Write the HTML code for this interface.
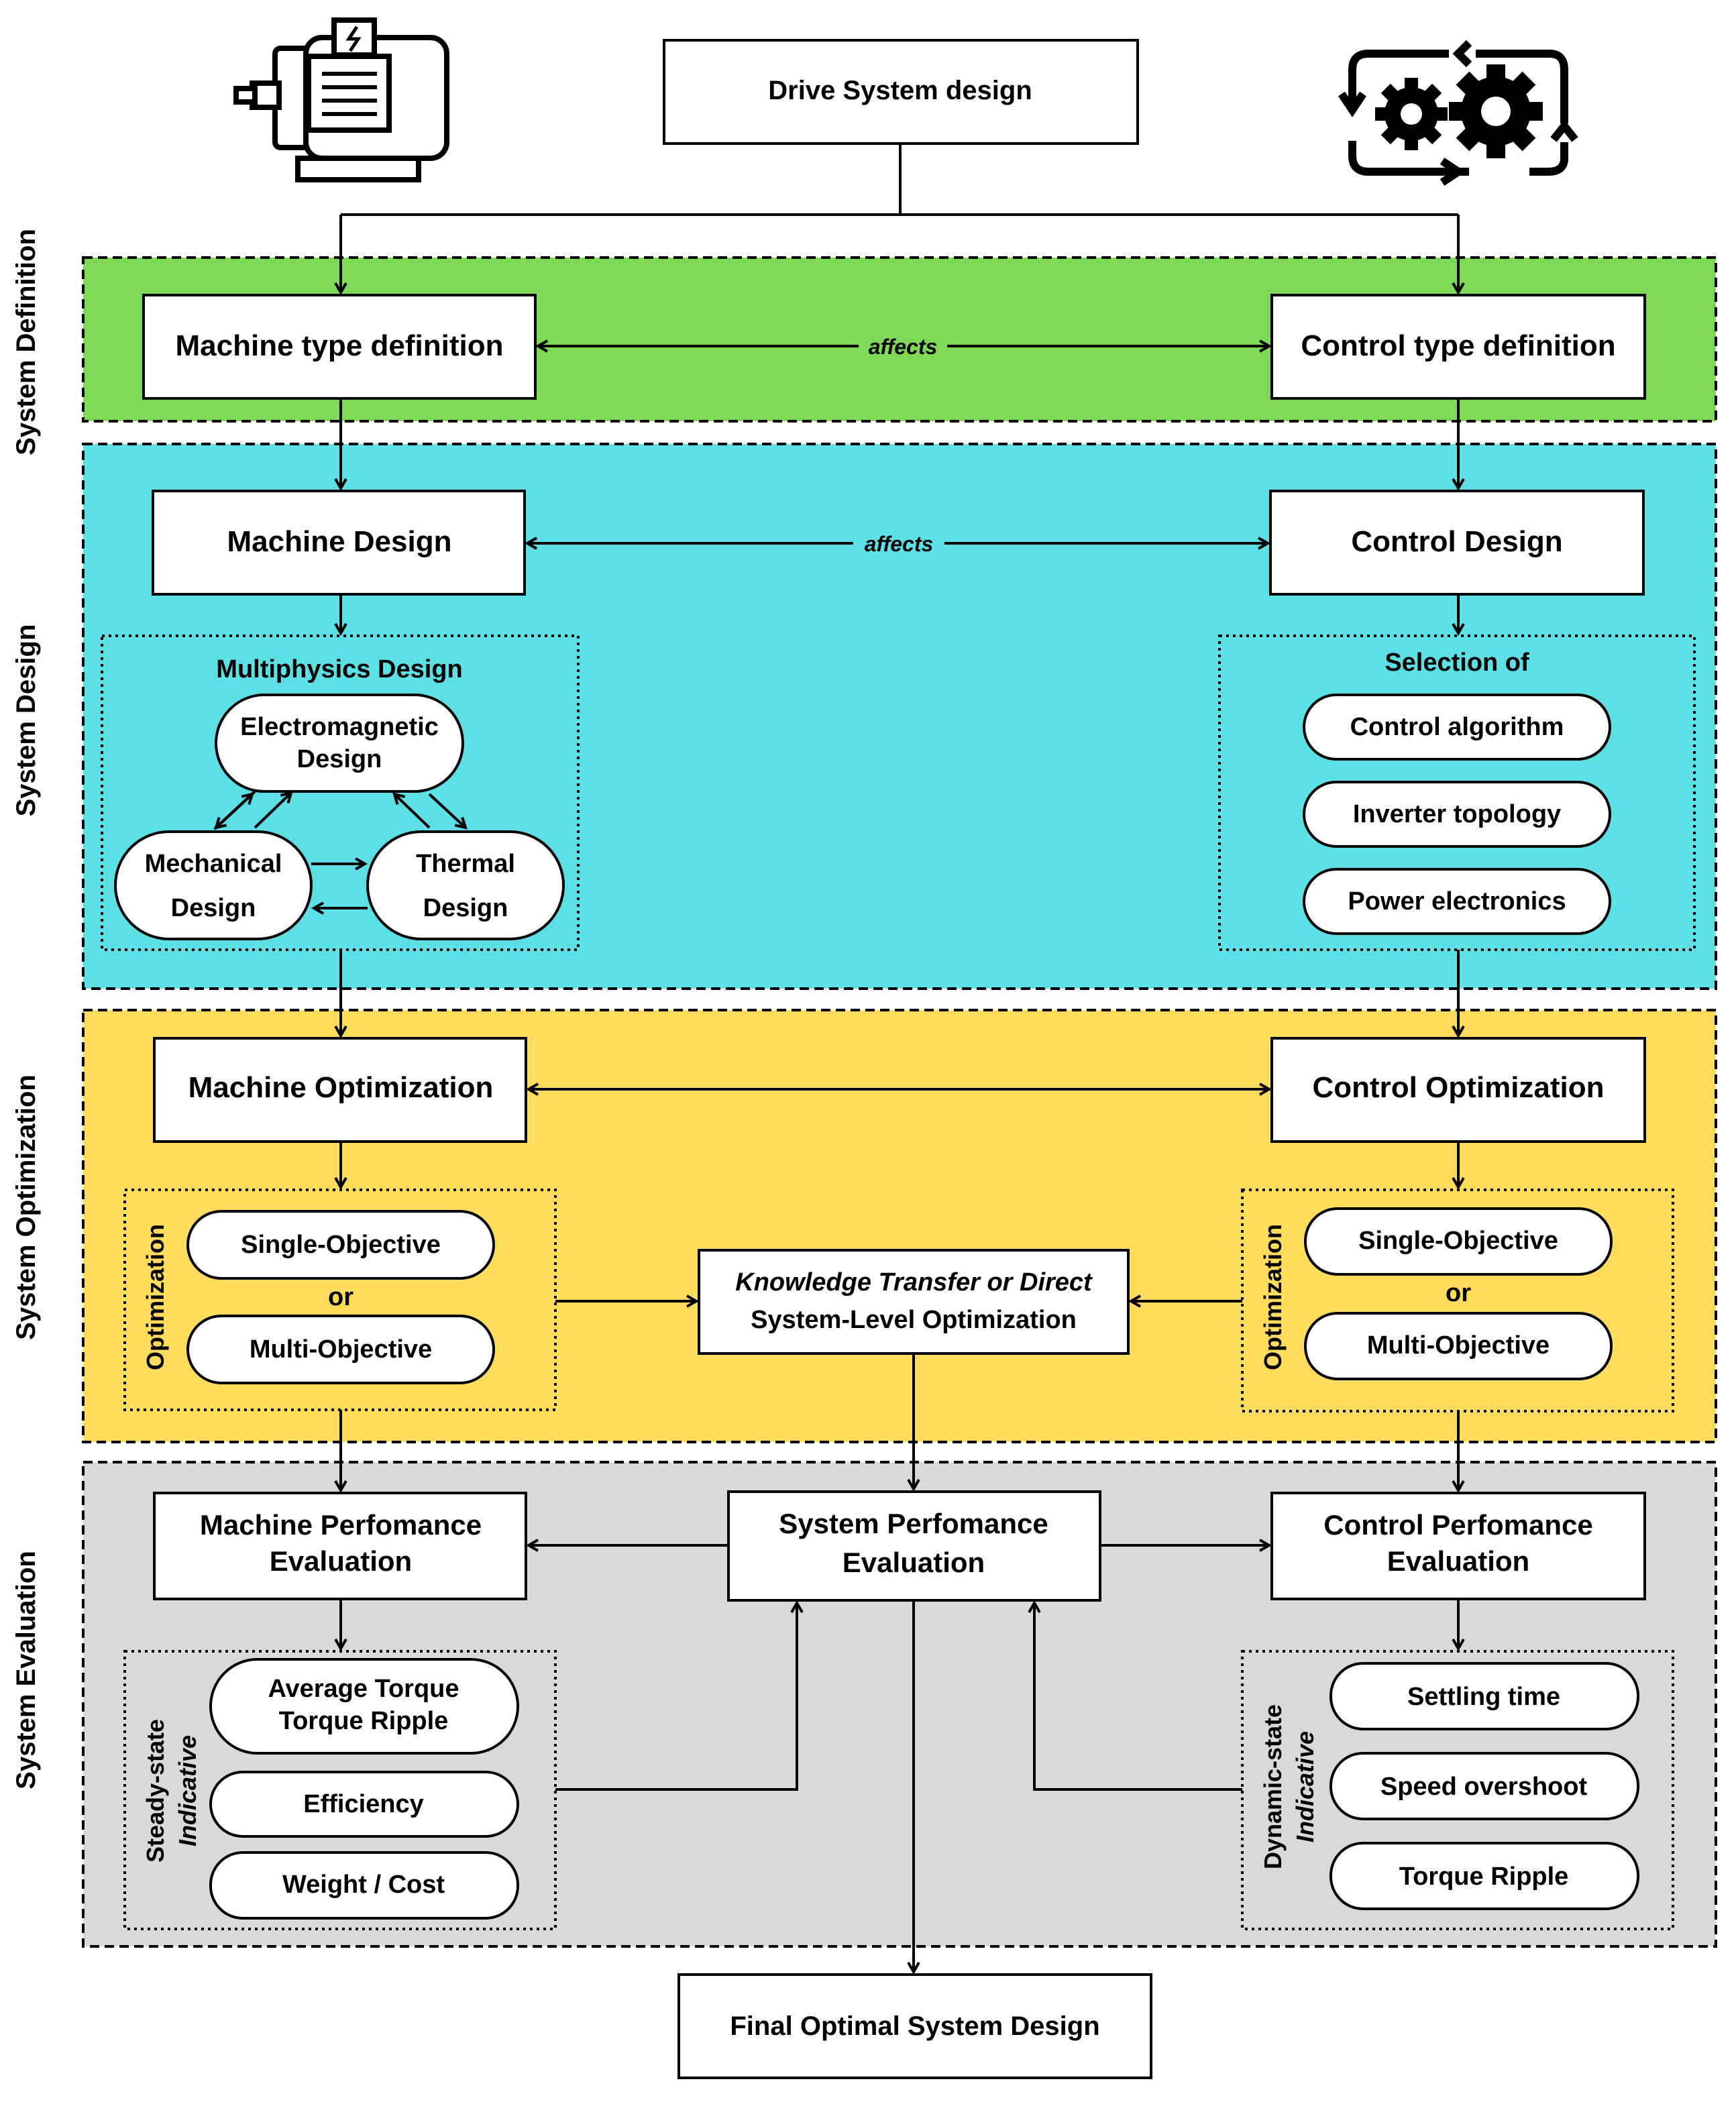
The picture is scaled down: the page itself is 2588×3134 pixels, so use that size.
<!DOCTYPE html>
<html><head><meta charset="utf-8"><style>
html,body{margin:0;padding:0;background:#fff}
svg{display:block}
text{font-family:"Liberation Sans",sans-serif;font-weight:bold;fill:#000}
</style></head><body>
<svg width="2588" height="3134" viewBox="0 0 1294 1567" xmlns="http://www.w3.org/2000/svg">
<defs>
<marker id="a" markerWidth="10" markerHeight="10" refX="8" refY="5" orient="auto" markerUnits="userSpaceOnUse">
<path d="M1,1 L8,5 L1,9" fill="none" stroke="#000" stroke-width="2"/>
</marker>
</defs>
<g stroke="#000" stroke-width="2">
<!-- bands -->
<rect x="62" y="192" width="1217" height="122" fill="#7ED957" stroke-dasharray="7,4"/>
<rect x="62" y="331" width="1217" height="406" fill="#5CE0E6" stroke-dasharray="7,4"/>
<rect x="62" y="753" width="1217" height="322" fill="#FFDC5C" stroke-dasharray="7,4"/>
<rect x="62" y="1090" width="1217" height="361" fill="#D9D9D9" stroke-dasharray="7,4"/>
<!-- dotted groups -->
<g fill="none" stroke-dasharray="2,3">
<rect x="76" y="474" width="355" height="234"/>
<rect x="909" y="474" width="354" height="234"/>
<rect x="93" y="887" width="321" height="164"/>
<rect x="926" y="887" width="321" height="165"/>
<rect x="93" y="1231" width="321" height="207"/>
<rect x="926" y="1231" width="321" height="207"/>
</g>
<!-- boxes -->
<g fill="#fff">
<rect x="495" y="30" width="353" height="77"/>
<rect x="107" y="220" width="292" height="77"/>
<rect x="948" y="220" width="278" height="77"/>
<rect x="114" y="366" width="277" height="77"/>
<rect x="947" y="366" width="278" height="77"/>
<rect x="115" y="774" width="277" height="77"/>
<rect x="948" y="774" width="278" height="77"/>
<rect x="521" y="932" width="320" height="77"/>
<rect x="115" y="1113" width="277" height="79"/>
<rect x="543" y="1112" width="277" height="81"/>
<rect x="948" y="1113" width="278" height="79"/>
<rect x="506" y="1472" width="352" height="77"/>
<!-- pills -->
<rect x="161" y="518" width="184" height="72" rx="36"/>
<rect x="86" y="620" width="146" height="80" rx="40"/>
<rect x="274" y="620" width="146" height="80" rx="40"/>
<rect x="972" y="518" width="228" height="48" rx="24"/>
<rect x="972" y="583" width="228" height="48" rx="24"/>
<rect x="972" y="648" width="228" height="48" rx="24"/>
<rect x="140" y="903" width="228" height="50" rx="25"/>
<rect x="140" y="981" width="228" height="50" rx="25"/>
<rect x="973" y="901" width="228" height="49" rx="24"/>
<rect x="973" y="979" width="228" height="49" rx="24"/>
<rect x="157" y="1237" width="229" height="70" rx="35"/>
<rect x="157" y="1321" width="229" height="48" rx="24"/>
<rect x="157" y="1381" width="229" height="49" rx="24"/>
<rect x="992" y="1240" width="229" height="49" rx="24"/>
<rect x="992" y="1307" width="229" height="49" rx="24"/>
<rect x="992" y="1374" width="229" height="49" rx="24"/>
</g>
<!-- connectors -->
<g fill="none">
<path d="M671,107 V160 M254,160 H1087"/>
<path d="M254,160 V218" marker-end="url(#a)"/>
<path d="M1087,160 V218" marker-end="url(#a)"/>
<path d="M640,258 H401" marker-end="url(#a)"/>
<path d="M706,258 H946" marker-end="url(#a)"/>
<path d="M254,297 V364" marker-end="url(#a)"/>
<path d="M1087,297 V364" marker-end="url(#a)"/>
<path d="M636,405 H393" marker-end="url(#a)"/>
<path d="M704,405 H945" marker-end="url(#a)"/>
<path d="M254,443 V472" marker-end="url(#a)"/>
<path d="M1087,443 V472" marker-end="url(#a)"/>
<path d="M160,618 L188,592" marker-end="url(#a)"/>
<path d="M190,590 L162,616" marker-start="none"/>
<path d="M190,590 L161,617" marker-end="url(#a)"/>
<path d="M190,617 L217,591" marker-end="url(#a)"/>
<path d="M320,617 L294,592" marker-end="url(#a)"/>
<path d="M320,592 L347,617" marker-end="url(#a)"/>
<path d="M232,644 H272" marker-end="url(#a)"/>
<path d="M274,677 H234" marker-end="url(#a)"/>
<path d="M254,708 V772" marker-end="url(#a)"/>
<path d="M1087,708 V772" marker-end="url(#a)"/>
<path d="M670,812 H394" marker-end="url(#a)"/>
<path d="M670,812 H946" marker-end="url(#a)"/>
<path d="M254,851 V885" marker-end="url(#a)"/>
<path d="M1087,851 V885" marker-end="url(#a)"/>
<path d="M414,970 H519" marker-end="url(#a)"/>
<path d="M926,970 H843" marker-end="url(#a)"/>
<path d="M681,1009 V1110" marker-end="url(#a)"/>
<path d="M254,1051 V1111" marker-end="url(#a)"/>
<path d="M1087,1052 V1111" marker-end="url(#a)"/>
<path d="M543,1152 H394" marker-end="url(#a)"/>
<path d="M820,1152 H946" marker-end="url(#a)"/>
<path d="M254,1192 V1229" marker-end="url(#a)"/>
<path d="M1087,1192 V1229" marker-end="url(#a)"/>
<path d="M414,1334 H594 V1195" marker-end="url(#a)"/>
<path d="M926,1334 H771 V1195" marker-end="url(#a)"/>
<path d="M681,1193 V1470" marker-end="url(#a)"/>
</g>
<!-- motor icon -->
<g fill="#fff" stroke-width="4">
<rect x="205" y="36" width="45" height="74" rx="4"/>
<rect x="228" y="28" width="105" height="90" rx="12"/>
<rect x="230" y="42" width="60" height="55"/>
<rect x="249" y="15" width="30" height="26"/>
<rect x="188" y="62" width="20" height="18"/>
<rect x="176" y="66" width="14" height="10"/>
<rect x="222" y="118" width="90" height="16"/>
<path d="M240,55 H281 M240,65 H281 M240,75 H281 M240,85 H281" stroke-width="3"/>
<path d="M266,20 L260,29 H267 L261,38" fill="none" stroke-width="2.5"/>
</g>
<!-- gears icon -->
<g fill="none" stroke-width="6">
<path d="M1080,40 H1020 Q1008,40 1008,52 V78"/>
<path d="M1000,70 L1008,82 L1016,70"/>
<path d="M1095,128 H1020 Q1008,128 1008,116 V105"/>
<path d="M1075,120 L1087,128 L1075,136"/>
<path d="M1100,40 H1155 Q1166,40 1166,52 V92"/>
<path d="M1095,32 L1087,40 L1095,48"/>
<path d="M1166,106 V118 Q1166,128 1154,128 H1140"/>
<path d="M1158,104 L1166,94 L1174,104"/>
</g>
<g fill="#000" stroke="none">
<circle cx="1052" cy="85" r="20"/>
<g transform="translate(1052,85)">
<rect x="-5" y="-27" width="10" height="54"/><rect x="-27" y="-5" width="54" height="10"/>
<rect x="-5" y="-27" width="10" height="54" transform="rotate(45)"/><rect x="-5" y="-27" width="10" height="54" transform="rotate(-45)"/>
</g>
<circle cx="1052" cy="85" r="8" fill="#fff"/>
<circle cx="1115" cy="83" r="26"/>
<g transform="translate(1115,83)">
<rect x="-7" y="-35" width="14" height="70"/><rect x="-35" y="-7" width="70" height="14"/>
<rect x="-7" y="-35" width="14" height="70" transform="rotate(45)"/><rect x="-7" y="-35" width="14" height="70" transform="rotate(-45)"/>
</g>
<circle cx="1115" cy="83" r="11" fill="#fff"/>
</g>
</g>
<!-- label backgrounds for affects -->
<!-- text -->
<g text-anchor="middle">
<text x="671" y="74" font-size="20">Drive System design</text>
<text x="253" y="265" font-size="22">Machine type definition</text>
<text x="1087" y="265" font-size="22">Control type definition</text>
<text x="673" y="264" font-size="16" font-style="italic">affects</text>
<text x="670" y="411" font-size="16" font-style="italic">affects</text>
<text x="253" y="411" font-size="22">Machine Design</text>
<text x="1086" y="411" font-size="22">Control Design</text>
<text x="253" y="505" font-size="19">Multiphysics Design</text>
<text x="253" y="548" font-size="19">Electromagnetic</text>
<text x="253" y="572" font-size="19">Design</text>
<text x="159" y="650" font-size="19">Mechanical</text>
<text x="159" y="683" font-size="19">Design</text>
<text x="347" y="650" font-size="19">Thermal</text>
<text x="347" y="683" font-size="19">Design</text>
<text x="1086" y="500" font-size="19">Selection of</text>
<text x="1086" y="548" font-size="19">Control algorithm</text>
<text x="1086" y="613" font-size="19">Inverter topology</text>
<text x="1086" y="678" font-size="19">Power electronics</text>
<text x="254" y="818" font-size="22">Machine Optimization</text>
<text x="1087" y="818" font-size="22">Control Optimization</text>
<text x="254" y="934" font-size="19">Single-Objective</text>
<text x="254" y="973" font-size="19">or</text>
<text x="254" y="1012" font-size="19">Multi-Objective</text>
<text x="1087" y="931" font-size="19">Single-Objective</text>
<text x="1087" y="970" font-size="19">or</text>
<text x="1087" y="1009" font-size="19">Multi-Objective</text>
<text x="681" y="962" font-size="19" font-style="italic">Knowledge Transfer or Direct</text>
<text x="681" y="990" font-size="19">System-Level Optimization</text>
<text x="254" y="1144" font-size="21">Machine Perfomance</text>
<text x="254" y="1171" font-size="21">Evaluation</text>
<text x="681" y="1143" font-size="21">System Perfomance</text>
<text x="681" y="1172" font-size="21">Evaluation</text>
<text x="1087" y="1144" font-size="21">Control Perfomance</text>
<text x="1087" y="1171" font-size="21">Evaluation</text>
<text x="271" y="1265" font-size="19">Average Torque</text>
<text x="271" y="1289" font-size="19">Torque Ripple</text>
<text x="271" y="1351" font-size="19">Efficiency</text>
<text x="271" y="1411" font-size="19">Weight / Cost</text>
<text x="1106" y="1271" font-size="19">Settling time</text>
<text x="1106" y="1338" font-size="19">Speed overshoot</text>
<text x="1106" y="1405" font-size="19">Torque Ripple</text>
<text x="682" y="1517" font-size="20">Final Optimal System Design</text>
<text transform="translate(26,255) rotate(-90)" font-size="20">System Definition</text>
<text transform="translate(26,537) rotate(-90)" font-size="20">System Design</text>
<text transform="translate(26,900) rotate(-90)" font-size="20">System Optimization</text>
<text transform="translate(26,1245) rotate(-90)" font-size="20">System Evaluation</text>
<text transform="translate(122,967) rotate(-90)" font-size="18">Optimization</text>
<text transform="translate(955,967) rotate(-90)" font-size="18">Optimization</text>
<text transform="translate(122,1335) rotate(-90)" font-size="18">Steady-state</text>
<text transform="translate(146,1335) rotate(-90)" font-size="18" font-style="italic">Indicative</text>
<text transform="translate(955,1332) rotate(-90)" font-size="18">Dynamic-state</text>
<text transform="translate(979,1332) rotate(-90)" font-size="18" font-style="italic">Indicative</text>
</g>
</svg>
</body></html>
